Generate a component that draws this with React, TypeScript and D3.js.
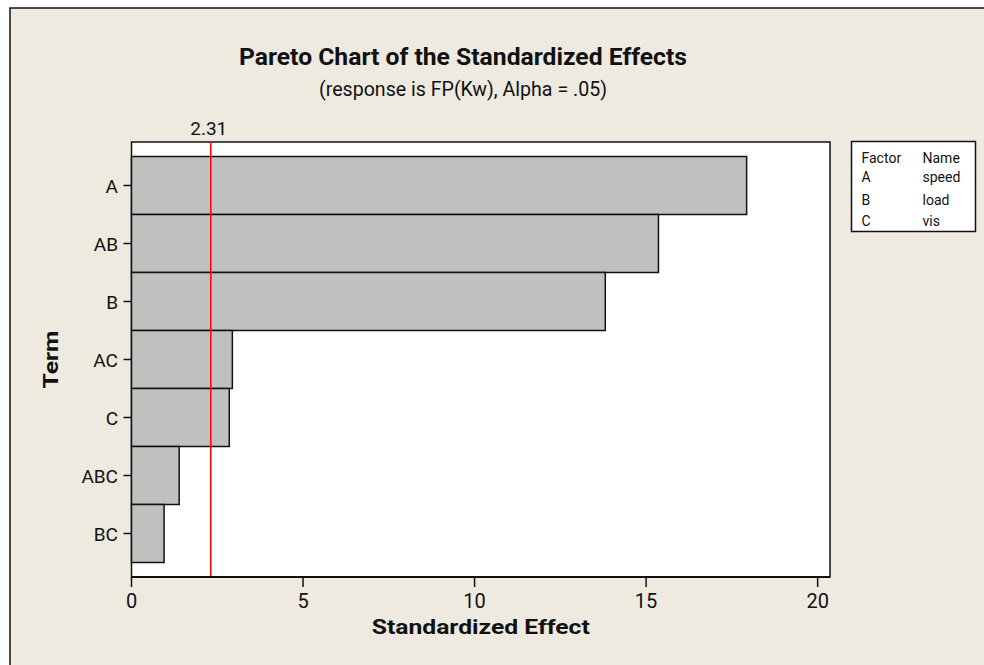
import React from "react";
import * as d3 from "d3";

const terms = ["A", "AB", "B", "AC", "C", "ABC", "BC"];
const effects = [17.93, 15.36, 13.81, 2.94, 2.85, 1.39, 0.95];
const criticalValue = 2.31;
const xTicks = [0, 5, 10, 15, 20];
const legendFactors = ["A", "B", "C"];
const legendNames = ["speed", "load", "vis"];

const W = 984;
const H = 665;
const FONT = "Roboto, 'Liberation Sans', sans-serif";

export default function App() {
  const left = 131.5;
  const right = 830;
  const top = 142;
  const bottom = 577;
  const x = d3.scaleLinear().domain([0, 20.36]).range([left, right]);
  const y = d3.scaleBand<string>().domain(terms).range([top, bottom]).paddingInner(0).paddingOuter(0.25);
  const legendRowY = [182, 205, 226];

  return (
    <svg width={W} height={H} style={{ position: "absolute", left: 0, top: 0 }} fontFamily={FONT}>
      <rect x={0} y={0} width={W} height={H} fill="#ffffff" />
      <rect x={10} y={8} width={W + 20} height={H + 20} fill="#EEEAE0" stroke="#111" strokeWidth={1.5} />

      {/* Title */}
      <text x={463} y={65} textAnchor="middle" fontSize={24} fontWeight="bold" fill="#111" textLength={448} lengthAdjust="spacingAndGlyphs">
        Pareto Chart of the Standardized Effects
      </text>
      <text x={463} y={96} textAnchor="middle" fontSize={20} fill="#111" textLength={288} lengthAdjust="spacingAndGlyphs">
        (response is FP(Kw), Alpha = .05)
      </text>

      {/* Plot area */}
      <rect x={left} y={top} width={right - left} height={bottom - top} fill="#ffffff" stroke="#111" strokeWidth={1.5} />

      {terms.map((t, i) => (
        <rect key={t} x={x(0)} y={y(t)!} width={x(effects[i]) - x(0)} height={y.bandwidth()} fill="#C0C0C0" stroke="#111" strokeWidth={1.5} />
      ))}

      {/* reference line */}
      <line x1={x(criticalValue)} x2={x(criticalValue)} y1={top} y2={bottom} stroke="#ff0000" strokeWidth={1.5} />
      <text x={x(criticalValue) - 2} y={135} textAnchor="middle" fontSize={19} fill="#111">
        {criticalValue.toFixed(2)}
      </text>

      {/* x axis */}
      <line x1={left} x2={right} y1={bottom} y2={bottom} stroke="#111" strokeWidth={2} />
      {xTicks.map((v) => (
        <g key={v}>
          <line x1={x(v)} x2={x(v)} y1={bottom} y2={bottom + 10} stroke="#111" strokeWidth={1.5} />
          <text x={x(v)} y={608} textAnchor="middle" fontSize={20} fill="#111">
            {v}
          </text>
        </g>
      ))}
      <text x={(left + right) / 2} y={634} textAnchor="middle" fontSize={20} fontWeight="bold" fill="#111" textLength={218} lengthAdjust="spacingAndGlyphs">
        Standardized Effect
      </text>

      {/* y axis */}
      {terms.map((t) => {
        const cy = y(t)! + y.bandwidth() / 2;
        return (
          <g key={t}>
            <line x1={left - 8} x2={left} y1={cy} y2={cy} stroke="#111" strokeWidth={1.5} />
            <text x={118} y={cy + 7} textAnchor="end" fontSize={19} fill="#111">
              {t}
            </text>
          </g>
        );
      })}
      <text transform={`translate(57.5, ${(top + bottom) / 2}) rotate(-90)`} textAnchor="middle" fontSize={20} fontWeight="bold" fill="#111" textLength={58} lengthAdjust="spacingAndGlyphs">
        Term
      </text>

      {/* legend */}
      <rect x={851.5} y={141.5} width={124} height={90} fill="#ffffff" stroke="#111" strokeWidth={1.5} />
      <text x={861.5} y={162.5} fontSize={14} fill="#111">Factor</text>
      <text x={922.5} y={162.5} fontSize={14} fill="#111">Name</text>
      {legendFactors.map((f, i) => (
        <g key={f}>
          <text x={861.5} y={legendRowY[i]} fontSize={14} fill="#111">{f}</text>
          <text x={922.5} y={legendRowY[i]} fontSize={14} fill="#111">{legendNames[i]}</text>
        </g>
      ))}
    </svg>
  );
}
